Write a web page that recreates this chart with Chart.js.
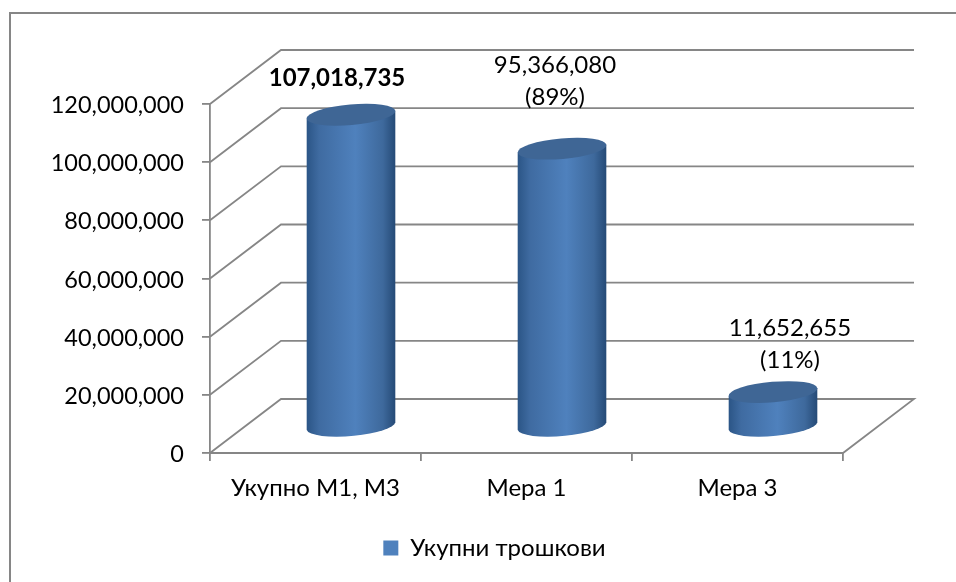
<!DOCTYPE html>
<html>
<head>
<meta charset="utf-8">
<style>
html,body{margin:0;padding:0;background:#fff;width:956px;height:582px;overflow:hidden}
#wrap{position:relative;width:956px;height:582px}
canvas{display:block}
</style>
<script src="https://cdn.jsdelivr.net/npm/chart.js@4"></script>
</head>
<body>
<div id="wrap"><canvas id="c" width="956" height="582"></canvas></div>
<script>
const categories = ['Укупно М1, М3', 'Мера 1', 'Мера 3'];
const seriesName = 'Укупни трошкови';
const totals = [107018735, 95366080, 11652655];
const shareLabels = [null, '(89%)', '(11%)'];
const yTicks = [0, 20000000, 40000000, 60000000, 80000000, 100000000, 120000000];

const FONT = 'Lato, "Open Sans", sans-serif';
const GRID = '#868686';
const DEPTH_X = 71, DEPTH_Y = -54;
const LABEL_NUDGE = [[-14, -36, 0], [-7, -83, 32], [17, -64, 32]];

const fmt = v => v.toLocaleString('en-US');

const wall3d = {
  id: 'wall3d',
  afterLayout(chart) {
    chart.legend.left += 73;
    chart.legend.right += 73;
  },
  beforeDraw(chart) {
    const ctx = chart.ctx;
    ctx.save();
    ctx.strokeStyle = GRID;
    ctx.lineWidth = 2;
    ctx.strokeRect(10, 13, 960, 640);
    ctx.restore();
  },
  beforeDatasetsDraw(chart) {
    const ctx = chart.ctx, y = chart.scales.y, a = chart.chartArea;
    ctx.save();
    ctx.strokeStyle = GRID;
    ctx.lineWidth = 1.8;
    y.ticks.forEach(t => {
      const py = y.getPixelForValue(t.value);
      ctx.beginPath();
      ctx.moveTo(a.left, py);
      ctx.lineTo(a.left + DEPTH_X, py + DEPTH_Y);
      ctx.lineTo(a.right + DEPTH_X, py + DEPTH_Y);
      ctx.stroke();
    });
    const y0 = y.getPixelForValue(0);
    ctx.beginPath();
    ctx.moveTo(a.left + DEPTH_X, y0 + DEPTH_Y);
    ctx.lineTo(a.right + DEPTH_X, y0 + DEPTH_Y);
    ctx.lineTo(a.right, y0);
    ctx.lineTo(a.left, y0);
    ctx.stroke();
    ctx.restore();
  },
  beforeDatasetDraw(chart, args) {
    const ctx = chart.ctx;
    const TILT = -5 * Math.PI / 180;
    args.meta.data.forEach(el => {
      const p = el.getProps(['x', 'y', 'base', 'width'], true);
      const r = p.width / 2, ry = 10.3;
      const cx = p.x + DEPTH_X / 2;
      const top = p.y + DEPTH_Y / 2, bot = p.base + DEPTH_Y / 2 + 0.6;
      const dy = 3.8;
      const g = ctx.createLinearGradient(cx - r, 0, cx + r, 0);
      g.addColorStop(0, '#2b5586');
      g.addColorStop(0.14, '#3f6ba1');
      g.addColorStop(0.55, '#4f81bd');
      g.addColorStop(0.86, '#3e699c');
      g.addColorStop(1, '#254a76');
      ctx.save();
      ctx.fillStyle = g;
      ctx.beginPath();
      ctx.moveTo(cx - r, top + dy);
      ctx.lineTo(cx - r, bot + dy);
      ctx.ellipse(cx, bot, r + 0.2, ry, TILT, Math.PI - 0.05, 0.05, true);
      ctx.lineTo(cx + r, top - dy);
      ctx.closePath();
      ctx.fill();
      ctx.fillStyle = '#3f6695';
      ctx.beginPath();
      ctx.ellipse(cx, top, r + 0.2, ry, TILT, 0, Math.PI * 2);
      ctx.fill();
      ctx.restore();
    });
    return false;
  },
  afterDatasetsDraw(chart) {
    const ctx = chart.ctx, meta = chart.getDatasetMeta(0);
    ctx.save();
    ctx.fillStyle = '#000';
    ctx.textAlign = 'center';
    ctx.textBaseline = 'middle';
    meta.data.forEach((el, i) => {
      const cx = el.x + DEPTH_X / 2, top = el.y + DEPTH_Y / 2;
      const [dx, dy, lead] = LABEL_NUDGE[i];
      ctx.font = (i === 0 ? 'bold ' : '') + '24px ' + FONT;
      ctx.fillText(fmt(totals[i]), cx + dx, top + dy);
      if (shareLabels[i]) ctx.fillText(shareLabels[i], cx + dx, top + dy + lead);
    });
    ctx.restore();
  }
};

new Chart(document.getElementById('c'), {
  type: 'bar',
  data: {
    labels: categories,
    datasets: [{ label: seriesName, data: totals, backgroundColor: '#4f81bd', categoryPercentage: 1, barPercentage: 0.42 }]
  },
  options: {
    responsive: false,
    animation: false,
    layout: { padding: { left: 0, right: 113, top: 104, bottom: 12 } },
    plugins: {
      tooltip: { enabled: false },
      legend: {
        position: 'bottom',
        labels: { color: '#000', boxWidth: 15, boxHeight: 15, font: { family: FONT, size: 24 }, padding: 8 }
      }
    },
    scales: {
      x: {
        grid: { drawOnChartArea: false, drawTicks: true, tickLength: 8, color: GRID, lineWidth: 1.8 },
        border: { color: GRID, width: 1.8 },
        ticks: { color: '#000', font: { family: FONT, size: 24 }, padding: 13, maxRotation: 0 },
        afterFit(s) { s.height = 75; }
      },
      y: {
        min: 0, max: 120000000,
        afterBuildTicks(s) { s.ticks = yTicks.map(v => ({ value: v })); },
        grid: { drawOnChartArea: false, drawTicks: true, tickLength: 8, color: GRID, lineWidth: 1.8 },
        border: { color: GRID, width: 1.8 },
        ticks: { color: '#000', font: { family: FONT, size: 23.5 }, padding: 18, labelOffset: 1.5, callback: v => fmt(v) },
        afterFit(s) { s.width = 210; }
      }
    }
  },
  plugins: [wall3d]
});
</script>
</body>
</html>
